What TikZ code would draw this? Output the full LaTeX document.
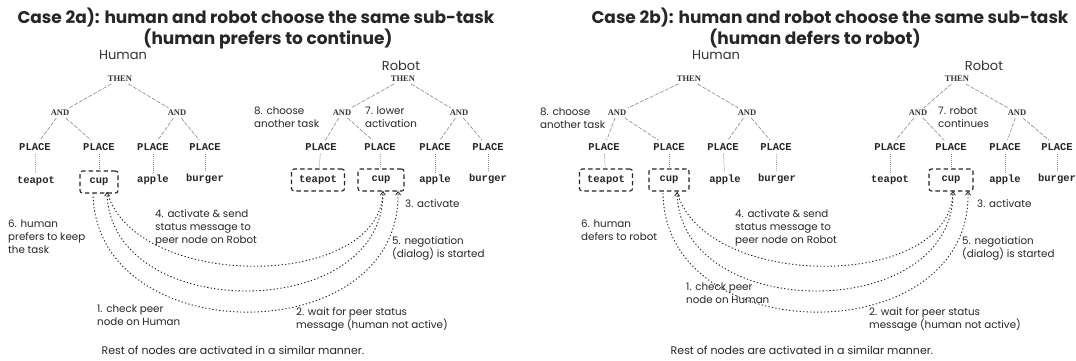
\documentclass[tikz,border=0pt]{standalone}
\usepackage{fontspec}
\setmainfont{Poppins}
\newfontfamily\monof{Liberation Mono}
\newfontfamily\serf{Liberation Serif}
\usetikzlibrary{arrows.meta}
\begin{document}
\begin{tikzpicture}[x=1pt,y=-1pt,
  title/.style={font=\bfseries\fontsize{17}{20}\selectfont, text=black!85, inner sep=0},
  who/.style={font=\fontsize{13}{15}\selectfont, text=black!80, inner sep=0},
  lbl/.style={font=\fontsize{10.3}{13}\selectfont, align=left, anchor=west, inner sep=0, text=black!85},
  tn/.style={font=\serf\bfseries\fontsize{8.5}{9}\selectfont, inner sep=2pt, text=black!80},
  pl/.style={font=\monof\bfseries\fontsize{10.5}{10.5}\selectfont, inner sep=3pt, text=black!85},
  lf/.style={font=\monof\bfseries\fontsize{10.5}{10.5}\selectfont, inner sep=3pt, text=black!85},
  lfbox/.style={lf, draw=black!85, line width=1.1pt, dash pattern=on 4.5pt off 3pt, rounded corners=2.5pt, minimum height=22pt, inner xsep=4pt},
  te/.style={draw=black!45, line width=0.6pt, dash pattern=on 4pt off 1.5pt},
  tv/.style={draw=black!45, line width=0.6pt, dash pattern=on 1pt off 1pt},
  arc/.style={draw=black!85, line width=0.9pt, dash pattern=on 1.3pt off 2.2pt},
  tip/.style={-{Straight Barb[length=3.5pt,width=5pt,line width=0.8pt]}},
]
\useasboundingbox (0,0) rectangle (1076,360);
\fill[white] (0,0) rectangle (1076,360);

% ================= LEFT PANEL =================
\node[title] (t1a) at (256,18) {Case 2a): human and robot choose the same sub-task};
\node[title] (t2a) at (268,39) {(human prefers to continue)};
\node[who] (hwhoA) at (123,55) {Human};
\node[who] (rwhoA) at (401,66) {Robot};

% human tree
\node[tn] (aHT) at (120,79) {THEN};
\node[tn] (aHA1) at (60,113) {AND};
\node[tn] (aHA2) at (177,113) {AND};
\node[pl] (aHP1) at (35,147) {PLACE};
\node[pl] (aHP2) at (99,147) {PLACE};
\node[pl] (aHP3) at (153,147) {PLACE};
\node[pl] (aHP4) at (205,147) {PLACE};
\node[lf] (aHL1) at (36,181) {teapot};
\node[lfbox, minimum width=38pt] (aHL2) at (99,182) {cup};
\node[lf] (aHL3) at (153,180) {apple};
\node[lf] (aHL4) at (205,179) {burger};
\draw[te] (aHT) -- (aHA1);
\draw[te] (aHT) -- (aHA2);
\draw[te] (aHA1) -- (aHP1);
\draw[te] (aHA1) -- (aHP2);
\draw[te] (aHA2) -- (aHP3);
\draw[te] (aHA2) -- (aHP4);
\draw[tv] (aHP1) -- (aHL1);
\draw[tv] (aHP2) -- (aHL2);
\draw[tv] (aHP3) -- (aHL3);
\draw[tv] (aHP4) -- (aHL4);

% robot tree
\node[tn] (aRT) at (403,79) {THEN};
\node[tn] (aRA1) at (342,113) {AND};
\node[tn] (aRA2) at (459,113) {AND};
\node[pl] (aRP1) at (321,147) {PLACE};
\node[pl] (aRP2) at (380,147) {PLACE};
\node[pl] (aRP3) at (435,147) {PLACE};
\node[pl] (aRP4) at (488,147) {PLACE};
\node[lfbox, minimum width=53pt] (aRL1) at (318,180) {teapot};
\node[lfbox, minimum width=46pt] (aRL2) at (381,180) {cup};
\node[lf] (aRL3) at (435,180) {apple};
\node[lf] (aRL4) at (488,179) {burger};
\draw[te] (aRT) -- (aRA1);
\draw[te] (aRT) -- (aRA2);
\draw[te] (aRA1) -- (aRP1);
\draw[te] (aRA1) -- (aRP2);
\draw[te] (aRA2) -- (aRP3);
\draw[te] (aRA2) -- (aRP4);
\draw[tv] (aRP1) -- (aRL1);
\draw[tv] (aRP2) -- (aRL2);
\draw[tv] (aRP3) -- (aRL3);
\draw[tv] (aRP4) -- (aRL4);

% labels
\node[lbl] (a8) at (254,117) {8. choose\\another task};
\node[lbl] (a7) at (365,117) {7. lower\\activation};
\node[lbl] (a6) at (8,237) {6. human\\prefers to keep\\the task};
\node[lbl] (a4) at (155,228) {4. activate \& send\\status message to\\peer node on Robot};
\node[lbl] (a3) at (405,204) {3. activate};
\node[lbl] (a5) at (392,248) {5. negotiation\\(dialog) is started};
\node[lbl] (a1) at (97,315) {1. check peer\\node on Human};
\node[lbl] (a2) at (296,319) {2. wait for peer status\\message (human not active)};
\node[font=\fontsize{11}{13}\selectfont, text=black!85] (aRest) at (233,350) {Rest of nodes are activated in a similar manner.};

% arcs
\coordinate (aHc1) at (107,192);
\coordinate (aHc2) at (93,193);
\coordinate (aRc1) at (383,191);
\coordinate (aRc2) at (398,191);
\draw[arc, tip] (aHc1) .. controls (135,291) and (380,291) .. (aRc1);
\draw[arc, tip] (aRc1) .. controls (386,324) and (110,324) .. (aHc1);
\draw[arc, tip] (aHc2) .. controls (95,352) and (402,352) .. (aRc2);

% ================= RIGHT PANEL =================
\node[title] (t1b) at (830,18) {Case 2b): human and robot choose the same sub-task};
\node[title] (t2b) at (815,39) {(human defers to robot)};
\node[who] (hwhoB) at (716,55) {Human};
\node[who] (rwhoB) at (984,66) {Robot};

% human tree
\node[tn] (bHT) at (689,79) {THEN};
\node[tn] (bHA1) at (617,113) {AND};
\node[tn] (bHA2) at (747,113) {AND};
\node[pl] (bHP1) at (604,147) {PLACE};
\node[pl] (bHP2) at (669,147) {PLACE};
\node[pl] (bHP3) at (723,147) {PLACE};
\node[pl] (bHP4) at (776,147) {PLACE};
\node[lfbox, minimum width=53pt] (bHL1) at (606,180) {teapot};
\node[lfbox, minimum width=40pt] (bHL2) at (669,180) {cup};
\node[lf] (bHL3) at (725,180) {apple};
\node[lf] (bHL4) at (777,179) {burger};
\draw[te] (bHT) -- (bHA1);
\draw[te] (bHT) -- (bHA2);
\draw[te] (bHA1) -- (bHP1);
\draw[te] (bHA1) -- (bHP2);
\draw[te] (bHA2) -- (bHP3);
\draw[te] (bHA2) -- (bHP4);
\draw[tv] (bHP1) -- (bHL1);
\draw[tv] (bHP2) -- (bHL2);
\draw[tv] (bHP3) -- (bHL3);
\draw[tv] (bHP4) -- (bHL4);

% robot tree
\node[tn] (bRT) at (957,79) {THEN};
\node[tn] (bRA1) at (918,113) {AND};
\node[tn] (bRA2) at (1017,113) {AND};
\node[pl] (bRP1) at (890,147) {PLACE};
\node[pl] (bRP2) at (951,147) {PLACE};
\node[pl] (bRP3) at (1005,147) {PLACE};
\node[pl] (bRP4) at (1057,147) {PLACE};
\node[lf] (bRL1) at (890,180) {teapot};
\node[lfbox, minimum width=44pt] (bRL2) at (951,180) {cup};
\node[lf] (bRL3) at (1005,180) {apple};
\node[lf] (bRL4) at (1057,179) {burger};
\draw[te] (bRT) -- (bRA1);
\draw[te] (bRT) -- (bRA2);
\draw[te] (bRA1) -- (bRP1);
\draw[te] (bRA1) -- (bRP2);
\draw[te] (bRA2) -- (bRP3);
\draw[te] (bRA2) -- (bRP4);
\draw[tv] (bRP1) -- (bRL1);
\draw[tv] (bRP2) -- (bRL2);
\draw[tv] (bRP3) -- (bRL3);
\draw[tv] (bRP4) -- (bRL4);

% labels
\node[lbl] (b8) at (540,118) {8. choose\\another task};
\node[lbl] (b7) at (938,117) {7. robot\\continues};
\node[lbl] (b6) at (581,230) {6. human\\defers to robot};
\node[lbl] (b4) at (735,228) {4. activate \& send\\status message to\\peer node on Robot};
\node[lbl] (b3) at (977,204) {3. activate};
\node[lbl] (b5) at (962,248) {5. negotiation\\(dialog) is started};
\node[lbl] (b1) at (686,293) {1. check peer\\node on Human};
\node[lbl] (b2) at (869,319) {2. wait for peer status\\message (human not active)};
\node[font=\fontsize{11}{13}\selectfont, text=black!85] (bRest) at (802,350) {Rest of nodes are activated in a similar manner.};

% arcs
\coordinate (bHc1) at (677,192);
\coordinate (bHc2) at (663,193);
\coordinate (bRc1) at (953,191);
\coordinate (bRc2) at (968,191);
\draw[arc, tip] (bHc1) .. controls (705,291) and (950,291) .. (bRc1);
\draw[arc, tip] (bRc1) .. controls (956,324) and (680,324) .. (bHc1);
\draw[arc, tip] (bHc2) .. controls (665,352) and (972,352) .. (bRc2);
\end{tikzpicture}
\end{document}
